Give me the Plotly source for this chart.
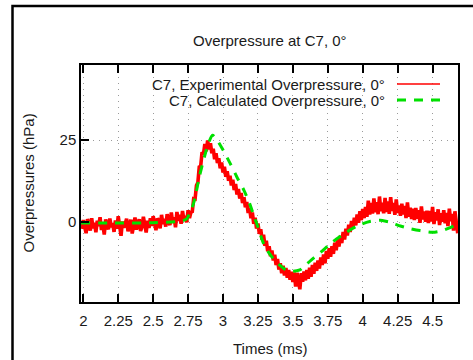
import numpy as np
import plotly.graph_objects as go

# ---- data ----
EXP_T0 = 1.99      # first experimental sample time (ms)
EXP_DT = 0.01      # sampling interval (ms)
exp_values = [
    -2.1, 0.6, -1.5, -3.4, 0.9, -0.4, -2.6, 1.2, -1.9, -0.2,
    -3.1, 0.4, -1.2, 1.5, -2.4, -0.7, -3.8, 0.8, -1.0, -2.2,
    1.1, -1.6, -0.3, -3.0, 0.5, -2.0, 1.8, -1.3, -4.2, 0.2,
    -1.7, -0.5, 1.0, -2.8, -0.9, 0.7, -3.5, -1.1, 1.4, -2.3,
    -0.6, 0.9, -2.7, -1.4, 1.6, -0.8, -3.2, 0.4, -1.8, 1.2,
    -1.2, 1.8, -0.4, -2.5, 1.1, 0.3, -1.9, 2.2, -0.6, 1.0,
    -1.4, 2.4, 0.2, -0.9, 2.9, -0.2, 1.5, -1.6, 3.1, 0.4,
    2.2, -0.5, 3.4, 0.8, 1.9, -0.1, 3.6, 1.2,
    3.0, 3.2, 7.1, 7.0, 11.2, 12.1, 16.8, 17.0, 21.3, 20.6,
    23.8, 21.6, 24.9, 22.2, 24.1, 21.0, 22.4, 19.2, 21.0, 18.0,
    19.5, 16.4, 18.2, 15.1, 16.9, 13.8, 15.5, 12.6, 14.1, 11.2,
    12.9, 9.8, 11.6, 8.4, 10.1, 7.2, 8.9, 5.8, 7.6, 4.5,
    6.1, 2.8, 4.4, 1.2, 2.9, -0.5, 1.3, -2.0, -0.4, -3.6,
    -2.2, -5.4, -3.9, -7.2, -5.7, -8.9, -7.4, -10.4, -8.7, -11.7,
    -10.0, -13.1, -11.3, -14.5, -12.6, -15.6, -13.3, -16.3, -14.0, -17.0,
    -14.6, -17.6, -15.2, -18.3, -15.4, -19.7, -15.5, -18.6, -20.5, -15.6,
    -18.2, -15.1, -17.8, -14.6, -17.3, -13.9, -16.7, -13.1, -15.8, -12.4,
    -14.9, -11.7, -14.2, -10.8, -13.1, -9.9, -12.6, -8.8, -11.2, -8.0,
    -10.6, -7.4, -9.7, -6.3, -8.6, -5.2, -7.5, -4.2, -6.4, -3.0,
    -5.3, -2.0, -4.1, -0.8, -3.0, 0.3, -2.0, 1.3, -1.0, 2.3,
    -0.2, 3.3, 0.6, 4.0, 1.2, 4.6, 1.6, 6.5, 2.3, 5.8,
    2.6, 7.2, 3.0, 6.1, 2.4, 7.8, 3.3, 5.9, 2.7, 7.4,
    3.1, 6.3, 2.5, 7.6, 3.4, 5.8, 2.2, 6.9, 2.8, 5.1,
    1.9, 5.6, 2.3, 4.9, 1.2, 6.0, 1.6, 4.4, 0.9, 4.1,
    0.6, 4.3, 1.0, 3.6, -0.2, 4.8, 0.8, 3.2, 0.1, 3.5,
    -0.3, 3.4, 0.2, 4.6, -0.6, 3.0, 0.5, 3.9, -0.9, 2.7,
    0.1, 3.6, -0.4, 2.8, -1.2, 4.1, 0.3, 2.5, -2.6, 3.3,
    0.4, -3.4,
]
exp_times = np.round(EXP_T0 + EXP_DT * np.arange(len(exp_values)), 2)

calc_times = [1.984, 2.2, 2.5, 2.7, 2.74, 2.76, 2.78, 2.80, 2.83, 2.87, 2.90,
              2.925, 2.95, 2.99, 3.05, 3.10, 3.15, 3.19, 3.22, 3.25, 3.29,
              3.33, 3.37, 3.41, 3.45, 3.50, 3.55, 3.60, 3.65, 3.70, 3.78,
              3.88, 3.96, 4.05, 4.14, 4.21, 4.27, 4.33, 4.41, 4.50, 4.57,
              4.63, 4.682]
calc_values = [-0.3, -0.3, -0.2, 0.3, 1.0, 2.5, 4.5, 7.5, 13.7, 20.4, 24.5,
               26.5, 25.5, 22.8, 18.0, 13.7, 9.7, 5.7, 2.0, -1.5, -6.5,
               -9.5, -11.7, -13.3, -14.6, -15.0, -14.6, -12.8, -10.9, -9.2, -6.2,
               -3.2, -1.2, 0.2, 0.5, -0.3, -1.2, -1.9, -2.6, -3.1, -2.6,
               -1.6, -0.6]

x_tickvals = [2, 2.25, 2.5, 2.75, 3, 3.25, 3.5, 3.75, 4, 4.25, 4.5]
x_ticktext = ["2", "2.25", "2.5", "2.75", "3", "3.25", "3.5", "3.75", "4", "4.25", "4.5"]
y_tickvals = [0, 25]
y_ticktext = ["0", "25"]

title_text = "Overpressure at C7, 0°"
exp_name = "C7, Experimental Overpressure, 0°"
calc_name = "C7, Calculated Overpressure, 0°"

FONT = "Liberation Sans, Arial, sans-serif"
TXT = "#1a1a1a"
RED = "#ff0000"
GREEN = "#00e000"

fig = go.Figure()
fig.add_trace(go.Scatter(x=exp_times, y=exp_values, mode="lines",
                         line=dict(color=RED, width=3.6), name=exp_name,
                         showlegend=False))
fig.add_trace(go.Scatter(x=calc_times, y=calc_values, mode="lines",
                         line=dict(color=GREEN, width=3, dash="9px,8px",
                                   shape="spline", smoothing=0.8),
                         name=calc_name, showlegend=False))

L, R, T, B = 81, 15, 65, 58
W, H = 473, 360
pw, ph = W - L - R, H - T - B

def px(x):
    return (x - L) / pw

def py(y):
    return (H - B - y) / ph

annotations = [
    dict(text=title_text, x=0.5, y=py(41), xref="paper", yref="paper",
         showarrow=False, xanchor="center", yanchor="middle",
         font=dict(family=FONT, size=15, color=TXT)),
    dict(text="Overpressures (hPa)", x=px(28), y=0.5, xref="paper", yref="paper",
         showarrow=False, textangle=-90, xanchor="center", yanchor="middle",
         font=dict(family=FONT, size=15, color=TXT)),
    dict(text="Times (ms)", x=0.5, y=py(348), xref="paper", yref="paper",
         showarrow=False, xanchor="center", yanchor="middle",
         font=dict(family=FONT, size=15, color=TXT)),
    dict(text=exp_name, x=px(387), y=py(84), xref="paper", yref="paper",
         showarrow=False, xanchor="right", yanchor="middle",
         font=dict(family=FONT, size=15, color=TXT)),
    dict(text=calc_name, x=px(387), y=py(100), xref="paper", yref="paper",
         showarrow=False, xanchor="right", yanchor="middle",
         font=dict(family=FONT, size=15, color=TXT)),
]

shapes = [
    dict(type="line", xref="paper", yref="paper", x0=px(397), x1=px(440),
         y0=py(84), y1=py(84), line=dict(color=RED, width=1.5)),
    dict(type="line", xref="paper", yref="paper", x0=px(397), x1=px(442),
         y0=py(100), y1=py(100), line=dict(color=GREEN, width=3, dash="9px,8px")),
    dict(type="rect", xref="paper", yref="paper", x0=px(12.5), x1=px(490),
         y0=py(380), y1=py(6), line=dict(color="black", width=2.5)),
]

fig.update_layout(
    width=W, height=H, margin=dict(l=L, r=R, t=T, b=B),
    paper_bgcolor="white", plot_bgcolor="white",
    font=dict(family=FONT, size=15, color=TXT),
    annotations=annotations, shapes=shapes,
)
fig.update_xaxes(range=[1.9835, 4.682], tickvals=x_tickvals, ticktext=x_ticktext,
                 ticks="inside", ticklen=8, tickwidth=1.5, tickcolor="black",
                 showline=True, linecolor="black", linewidth=1.5, mirror="ticks",
                 showgrid=True, gridcolor="#9a9a9a", gridwidth=1, griddash="1px,5px",
                 zeroline=False, ticklabelstandoff=4,
                 tickfont=dict(family=FONT, size=15, color=TXT))
fig.update_yaxes(range=[-24.4, 47.95], tickvals=y_tickvals, ticktext=y_ticktext,
                 ticks="inside", ticklen=8, tickwidth=1.5, tickcolor="black",
                 showline=True, linecolor="black", linewidth=1.5, mirror=True,
                 showgrid=True, gridcolor="#9a9a9a", gridwidth=1, griddash="1px,5px",
                 zeroline=False, tickfont=dict(family=FONT, size=15, color=TXT))

fig.write_html("out.html")
